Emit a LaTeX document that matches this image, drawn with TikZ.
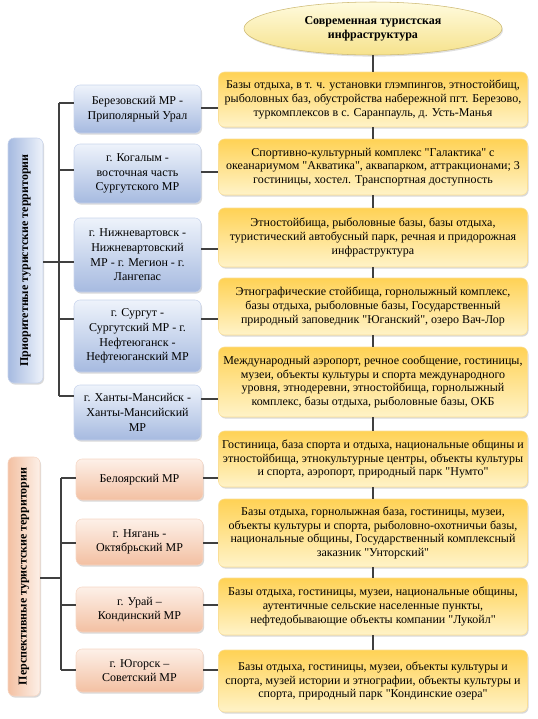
\documentclass[tikz,border=0pt]{standalone}
\usepackage{fontspec}
\setmainfont{Liberation Serif}[Ligatures=TeXOff]
\usetikzlibrary{shapes.geometric,shadows}

\definecolor{linegray}{RGB}{64,64,64}
\definecolor{infotop}{RGB}{255,210,85}
\definecolor{infobot}{RGB}{255,243,200}
\definecolor{infoedge}{RGB}{250,222,150}
\definecolor{prtop}{RGB}{238,243,251}
\definecolor{prbot}{RGB}{166,186,224}
\definecolor{predge}{RGB}{200,212,236}
\definecolor{petop}{RGB}{253,240,232}
\definecolor{pebot}{RGB}{243,192,162}
\definecolor{peedge}{RGB}{246,214,196}
\definecolor{ovtop}{RGB}{255,251,222}
\definecolor{ovbot}{RGB}{246,226,140}
\definecolor{ovedge}{RGB}{205,185,115}

\tikzset{
  conn/.style={draw=linegray, line width=0.8pt},
  box/.style={rounded corners=4.5pt, align=center, inner xsep=1pt, inner ysep=2pt,
    font=\fontsize{9}{10.2}\selectfont,
    drop shadow={opacity=0.3, shadow xshift=0.8pt, shadow yshift=-1.2pt}},
  infobox/.style={box, draw=infoedge, top color=infotop, bottom color=infobot, minimum width=231.75pt},
  prbox/.style={box, draw=predge, top color=prtop, bottom color=prbot, minimum width=95.25pt,
    font=\fontsize{9}{11}\selectfont},
  pebox/.style={box, draw=peedge, top color=petop, bottom color=pebot, minimum width=95.25pt,
    font=\fontsize{9}{11}\selectfont},
  sidelabel/.style={box, rotate=90, font=\fontsize{9}{11}\selectfont\bfseries},
}

\begin{document}
\begin{tikzpicture}[x=0.75pt, y=-0.75pt]
	\useasboundingbox (0,0) rectangle (538,719);

	\node[ellipse, draw=ovedge, top color=ovtop, bottom color=ovbot, align=center,
		minimum width=193.5pt, minimum height=39.75pt, inner sep=0pt,
		font=\fontsize{9}{10.5}\selectfont\bfseries,
		drop shadow={opacity=0.25, shadow xshift=0.8pt, shadow yshift=-1.2pt}] (top) at (373,28.5)
		{Современная туристская\\инфраструктура};

	% infrastructure column
	\node[infobox, minimum height=41.25pt] (y1) at (373,99.5)
		{Базы отдыха, в т. ч. установки глэмпингов, этностойбищ,\\рыболовных баз, обустройства набережной пгт. Березово,\\туркомплексов в с. Саранпауль, д. Усть-Манья};
	\node[infobox, minimum height=42pt] (y2) at (373,167)
		{Спортивно-культурный комплекс "Галактика" с\\океанариумом "Акватика", аквапарком, аттракционами; 3\\гостиницы, хостел. Транспортная доступность};
	\node[infobox, minimum height=44.25pt] (y3) at (373,237.5)
		{Этностойбища, рыболовные базы, базы отдыха,\\туристический автобусный парк, речная и придорожная\\инфраструктура};
	\node[infobox, minimum height=42.75pt] (y4) at (373,306.5)
		{Этнографические стойбища, горнолыжный комплекс,\\базы отдыха, рыболовные базы, Государственный\\природный заповедник "Юганский", озеро Вач-Лор};
	\node[infobox, minimum height=52.5pt] (y5) at (373,382)
		{Международный аэропорт, речное сообщение, гостиницы,\\музеи, объекты культуры и спорта международного\\уровня, этнодеревни, этностойбища, горнолыжный\\комплекс, базы отдыха, рыболовные базы, ОКБ};
	\node[infobox, minimum height=42pt] (y6) at (373,459)
		{Гостиница, база спорта и отдыха, национальные общины и\\этностойбища, этнокультурные центры, объекты культуры\\и спорта, аэропорт, природный парк "Нумто"};
	\node[infobox, minimum height=51pt] (y7) at (373,533)
		{Базы отдыха, горнолыжная база, гостиницы, музеи,\\объекты культуры и спорта, рыболовно-охотничьи базы,\\национальные общины, Государственный комплексный\\заказник "Унторский"};
	\node[infobox, minimum height=42.75pt] (y8) at (373,606.5)
		{Базы отдыха, гостиницы, музеи, национальные общины,\\аутентичные сельские населенные пункты,\\нефтедобывающие объекты компании "Лукойл"};
	\node[infobox, minimum height=46.5pt] (y9) at (373,681)
		{Базы отдыха, гостиницы, музеи, объекты культуры и\\спорта, музей истории и этнографии, объекты культуры и\\спорта, природный парк "Кондинские озера"};

	% priority territories
	\node[prbox, minimum height=36pt] (b1) at (137.5,109) {Березовский МР -\\Приполярный Урал};
	\node[prbox, minimum height=44.25pt] (b2) at (137.5,173.5) {г. Когалым -\\восточная часть\\Сургутского МР};
	\node[prbox, minimum height=55.5pt] (b3) at (137.5,255) {г. Нижневартовск -\\Нижневартовский\\МР - г. Мегион - г.\\Лангепас};
	\node[prbox, minimum height=54pt] (b4) at (137.5,336) {г. Сургут -\\Сургутский МР - г.\\Нефтеюганск -\\Нефтеюганский МР};
	\node[prbox, minimum height=41.25pt] (b5) at (137.5,412.5) {г. Ханты-Мансийск -\\Ханты-Мансийский\\МР};

	% prospective territories
	\node[pebox, minimum height=30.75pt] (p1) at (139.5,479.5) {Белоярский МР};
	\node[pebox, minimum height=34.5pt] (p2) at (139.5,542) {г. Нягань -\\Октябрьский МР};
	\node[pebox, minimum height=33.75pt] (p3) at (139.5,609.5) {г. Урай –\\Кондинский МР};
	\node[pebox, minimum height=32.25pt] (p4) at (139.5,670.5) {г. Югорск –\\Советский МР};

	\node[sidelabel, draw=predge, left color=prbot, right color=prtop,
		minimum width=183.75pt, minimum height=26.25pt] (prio) at (25.5,260.5)
		{Приоритетные туристские территории};
	\node[sidelabel, draw=peedge, left color=pebot, right color=petop,
		minimum width=179.25pt, minimum height=24pt] (persp) at (24,576.5)
		{Перспективные туристские территории};

	% trunk joints
	\coordinate (j1) at (59,103);
	\coordinate (j2) at (59,170);
	\coordinate (j3) at (59,262);
	\coordinate (j4) at (59,319);
	\coordinate (j5) at (59,396);
	\coordinate (k0) at (61,578);
	\coordinate (k1) at (61,478);
	\coordinate (k2) at (61,543);
	\coordinate (k3) at (61,605);
	\coordinate (k4) at (61,670);

	\draw[conn] (j1) -- (j5);
	\draw[conn] (k1) -- (k4);
	\draw[conn] (prio.south |- j3) -- (j3);
	\draw[conn] (persp.south |- k0) -- (k0);
	\foreach \j/\b in {j1/b1,j2/b2,j3/b3,j4/b4,j5/b5,k1/p1,k2/p2,k3/p3,k4/p4}
		\draw[conn] (\j) -- (\j -| \b.west);

	\foreach \b/\y/\h in {b1/y1/108,b2/y2/172,b3/y3/249,b4/y4/319,b5/y5/399,p1/y6/478,p2/y7/543,p3/y8/605,p4/y9/670}
		\draw[conn] (\b.east |- 0,\h) -- (\y.west |- 0,\h);

	\foreach \a/\b in {top/y1,y1/y2,y2/y3,y3/y4,y4/y5,y5/y6,y6/y7,y7/y8,y8/y9}
		\draw[conn] (\a.south) -- (\b.north);
\end{tikzpicture}
\end{document}
